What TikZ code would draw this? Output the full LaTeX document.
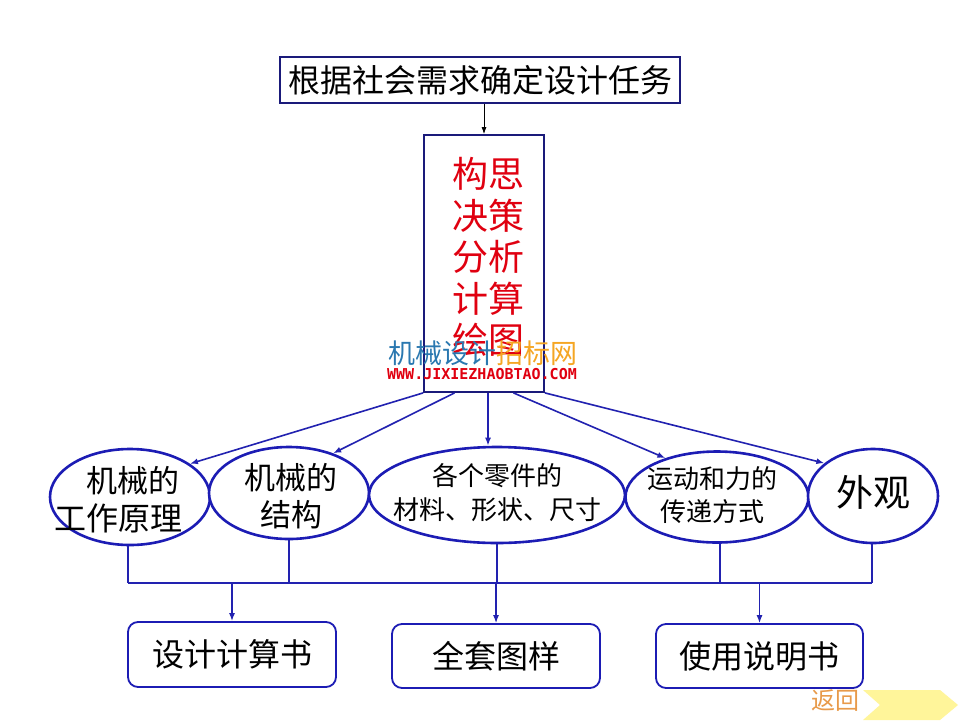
\documentclass[tikz,border=0pt]{standalone}
\usepackage{fontspec}
\newfontfamily\cjk{Noto Sans CJK SC}
\newfontfamily\wmmono{DejaVu Sans Mono}
\usetikzlibrary{shapes.geometric,arrows.meta,calc}
\definecolor{navy}{HTML}{1A1A7A}
\definecolor{eblue}{HTML}{1C1CB4}
\definecolor{lblue}{HTML}{2222B0}
\definecolor{redtxt}{HTML}{E00010}
\definecolor{wmblue}{HTML}{2A78B0}
\definecolor{wmorange}{HTML}{F5A623}
\definecolor{backorange}{HTML}{E89A4A}
\definecolor{backyellow}{HTML}{FFF59A}
\tikzset{
  ell/.style={ellipse, draw=eblue, line width=2.6pt, fill=white, inner sep=0pt},
  txt/.style={font=\cjk, text=black, inner sep=0pt, align=center},
  outbox/.style={rounded corners=10pt, draw=eblue, line width=1.8pt, inner sep=0pt},
  conn/.style={draw=lblue, line width=1.6pt},
  arr/.style={conn, -{Latex[length=8pt,width=6pt]}},
}
\begin{document}
\begin{tikzpicture}[x=1pt,y=-1pt]
\useasboundingbox[fill=white] (0,0) rectangle (960,720);

% top box
\node[draw=navy, line width=1.8pt, minimum width=400, minimum height=46, inner sep=0pt,
      font=\cjk\fontsize{32}{36}\selectfont] (top) at (480,80) {根据社会需求确定设计任务};

% red box
\node[draw=navy, line width=1.8pt, minimum width=120, minimum height=257, inner sep=0pt] (red) at (484,263.5) {};
\node[font=\cjk\fontsize{36}{41.5}\selectfont, text=redtxt, align=center, inner sep=0pt]
  (redtext) at (488,257) {构思\\决策\\分析\\计算\\绘图};

\draw[-{Latex[length=7pt,width=5pt]}, line width=0.8pt, black] (red.north |- top.south) -- (red.north);

% watermark
\node[font=\cjk\fontsize{27}{30}\selectfont, inner sep=0pt] (wm1) at (483,353)
  {\textcolor{wmblue}{机械设计}\textcolor{wmorange}{招标网}};
\node[font=\wmmono\bfseries\fontsize{15}{16}\selectfont, text=redtxt, inner sep=0pt] (wm2) at (482,374)
  {WWW.JIXIEZHAOBTAO.COM};

% ellipses
\node[ell, minimum width=160, minimum height=96] (e1) at (130,497) {};
\node[ell, minimum width=160, minimum height=92] (e2) at (289,493) {};
\node[ell, minimum width=256, minimum height=96] (e3) at (497,495) {};
\node[ell, minimum width=183, minimum height=91] (e4) at (717,497) {};
\node[ell, minimum width=130, minimum height=94] (e5) at (873,496) {};

\node[txt, font=\cjk\fontsize{31}{36}\selectfont] (t1a) at (133,481) {机械的};
\node[txt, font=\cjk\fontsize{32}{36}\selectfont] (t1b) at (118,518) {工作原理};
\node[txt, font=\cjk\fontsize{31}{37}\selectfont] (t2) at (291,496) {机械的\\结构};
\node[txt, font=\cjk\fontsize{26}{34}\selectfont] (t3) at (497,493) {各个零件的\\材料、形状、尺寸};
\node[txt, font=\cjk\fontsize{26}{33}\selectfont] (t4) at (712,495) {运动和力的\\传递方式};
\node[txt, font=\cjk\fontsize{37}{40}\selectfont] (t5) at (873,492) {外观};

% fan-out arrows
\draw[arr] (red.south west) -- (e1.29);
\draw[arr] ($(red.south west)!0.258!(red.south east)$) -- (e2.42);
\draw[arr] ($(red.south west)!0.533!(red.south east)$) coordinate (m3) -- (m3 |- e3.north);
\draw[arr] ($(red.south west)!0.742!(red.south east)$) -- (e4.143);
\draw[arr] (red.south east) -- (e5.146);

% bus
\coordinate (busL) at (128,583);
\coordinate (busR) at (872,583);
\draw[conn] (busL) -- (busR);
\draw[conn] (e1.south -| busL) -- (busL);
\draw[conn] (e2.south) -- (e2.south |- busL);
\draw[conn] (e3.south) -- (e3.south |- busL);
\draw[conn] ($(e4.south)+(3,0)$) coordinate (e4s) -- (e4s |- busL);
\draw[conn] (e5.south -| busR) -- (busR);

% bottom boxes
\node[outbox, minimum width=208, minimum height=65, font=\cjk\fontsize{32}{36}\selectfont] (b1) at (232,654.5) {设计计算书};
\node[outbox, minimum width=208, minimum height=64, font=\cjk\fontsize{32}{36}\selectfont] (b2) at (496,656) {全套图样};
\node[outbox, minimum width=207, minimum height=64, font=\cjk\fontsize{32}{36}\selectfont] (b3) at (759.5,656) {使用说明书};

\draw[arr, line width=1.3pt] (b1.north |- busL) -- (b1.north);
\draw[arr, line width=1.3pt] (b2.north |- busL) -- (b2.north);
\draw[arr, line width=1.3pt] (b3.north |- busL) -- (b3.north);

% back button
\fill[backyellow] (863,690) -- (940,690) -- (958,705) -- (940,720) -- (863,720) -- (880,705) -- cycle;
\node[font=\cjk\fontsize{24}{28}\selectfont, text=backorange, inner sep=0pt] (back) at (835,701) {返回};
\end{tikzpicture}
\end{document}
